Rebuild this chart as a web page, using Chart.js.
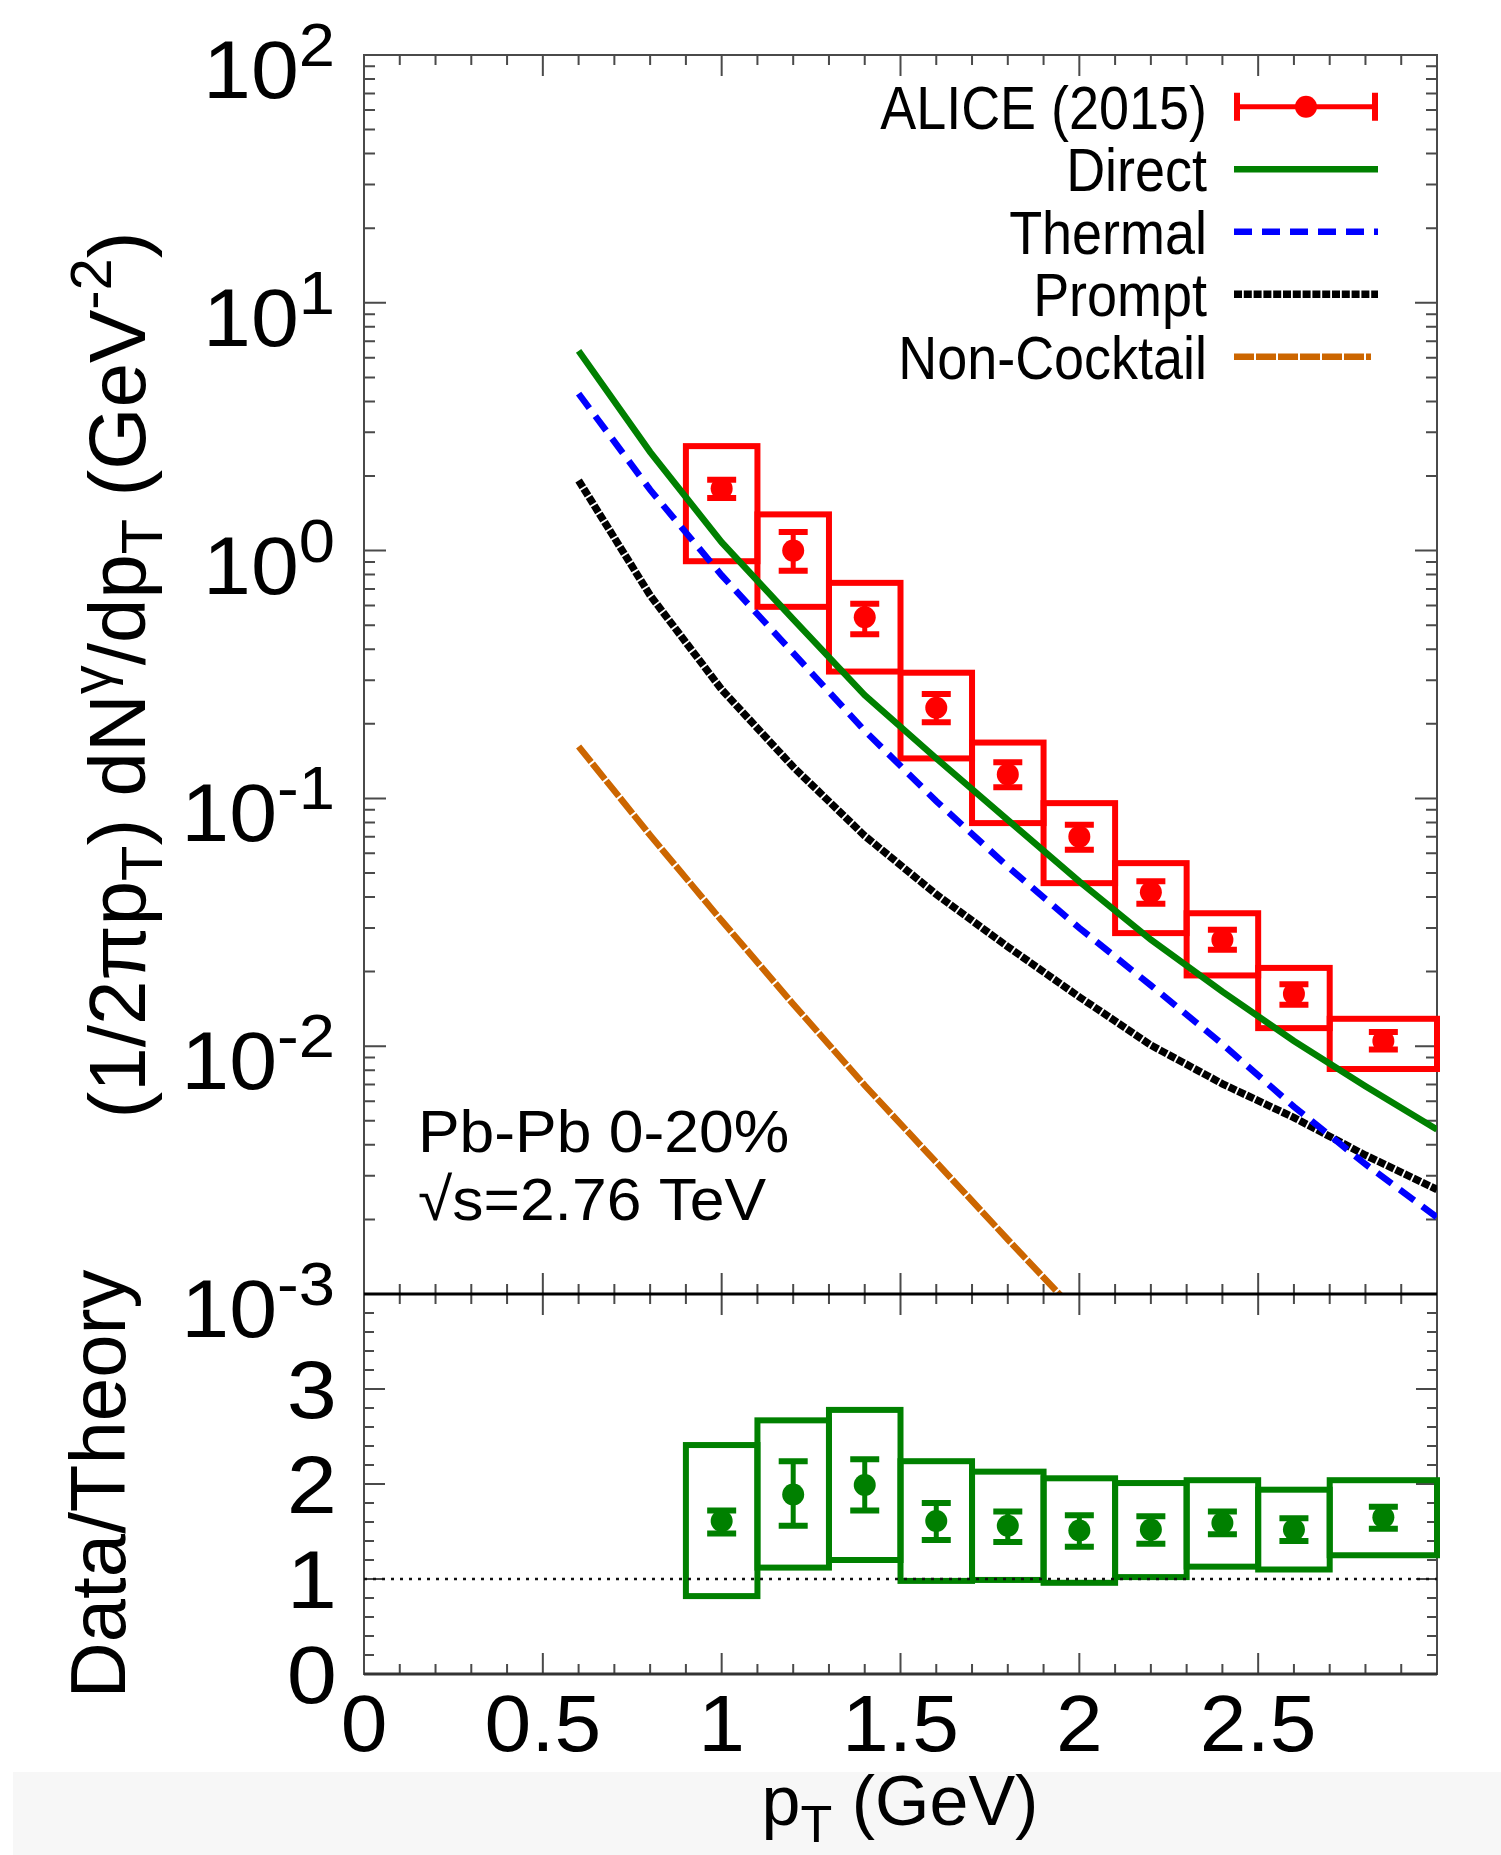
<!DOCTYPE html>
<html><head><meta charset="utf-8">
<script src="https://cdn.jsdelivr.net/npm/chart.js@4.4.1/dist/chart.umd.min.js"></script>
<style>
html,body{margin:0;padding:0;background:#fff;}
#wrap{position:relative;width:1501px;height:1855px;overflow:hidden;background:#fff;}
#band{position:absolute;left:13px;top:1772px;width:1488px;height:83px;background:#f7f7f7;}
canvas{position:absolute;left:0;top:0;}
</style></head><body>
<div id="wrap"><div id="band"></div>
<canvas id="top" width="1501" height="1855"></canvas>
<canvas id="bot" width="1501" height="1855"></canvas>
</div>
<script>
// ---------------- DATA ----------------
const ptBins = [1.0, 1.2, 1.4, 1.6, 1.8, 2.0, 2.2, 2.4, 2.6, 2.85];
const binLo  = [0.9, 1.1, 1.3, 1.5, 1.7, 1.9, 2.1, 2.3, 2.5, 2.7];
const binHi  = [1.1, 1.3, 1.5, 1.7, 1.9, 2.1, 2.3, 2.5, 2.7, 3.0];

const aliceY      = [1.78, 1.00, 0.538, 0.232, 0.125, 0.0701, 0.0418, 0.0269, 0.01626, 0.0105];
const aliceStatHi = [1.93, 1.19, 0.610, 0.264, 0.140, 0.0782, 0.0463, 0.0295, 0.0178, 0.0114];
const aliceStatLo = [1.63, 0.83, 0.460, 0.203, 0.111, 0.0621, 0.0376, 0.0245, 0.0147, 0.0097];
const aliceSysHi  = [2.64, 1.40, 0.741, 0.3215, 0.168, 0.0957, 0.0548, 0.0344, 0.0207, 0.0129];
const aliceSysLo  = [0.906, 0.593, 0.325, 0.145, 0.0795, 0.0455, 0.0286, 0.0193, 0.01183, 0.00809];

const curvePt   = [0.6, 0.8, 1.0, 1.2, 1.4, 1.6, 1.8, 2.0, 2.2, 2.4, 2.6, 2.8, 3.0];
const direct    = [6.4, 2.50, 1.08, 0.528, 0.261, 0.145, 0.0818, 0.0462, 0.0269, 0.0166, 0.0105, 0.0069, 0.00461];
const thermal   = [4.30, 1.76, 0.795, 0.386, 0.1875, 0.0975, 0.053, 0.030, 0.0176, 0.0102, 0.0057, 0.00334, 0.00204];
const prompt    = [1.92, 0.66, 0.275, 0.134, 0.0706, 0.041, 0.0252, 0.0158, 0.0101, 0.00705, 0.00515, 0.00363, 0.00264];
const ncPt      = [0.6, 0.8, 1.0, 1.2, 1.4, 1.6, 1.8, 2.0];
const nonCocktail = [0.162, 0.071, 0.0321, 0.0148, 0.00695, 0.0034, 0.00166, 0.00082];

const ratioY      = [1.61, 1.89, 1.99, 1.61, 1.56, 1.51, 1.52, 1.59, 1.52, 1.65];
const ratioStatHi = [1.72, 2.24, 2.26, 1.80, 1.71, 1.67, 1.66, 1.71, 1.64, 1.76];
const ratioStatLo = [1.48, 1.56, 1.72, 1.41, 1.39, 1.34, 1.37, 1.47, 1.40, 1.53];
const ratioSysHi  = [2.41, 2.67, 2.78, 2.24, 2.13, 2.06, 2.01, 2.04, 1.94, 2.04];
const ratioSysLo  = [0.82, 1.12, 1.20, 0.98, 0.99, 0.96, 1.02, 1.13, 1.10, 1.25];
const unityLine   = [1, 1];

const xTickValues = [0, 0.5, 1, 1.5, 2, 2.5];
const xTickLabels = ['0', '0.5', '1', '1.5', '2', '2.5'];
const yTickExps   = [2, 1, 0, -1, -2, -3];
const ratioTickValues = [0, 1, 2, 3];
const ratioTickLabels = ['0', '1', '2', '3'];

// ---------------- HELPERS ----------------
const FONT = '"Liberation Sans", Arimo, Arial, Helvetica, sans-serif';
const AXIS = '#4a4a4a';
function richWidth(ctx, parts, sx) {
  let w = 0;
  for (const p of parts) { ctx.font = p.size + 'px ' + FONT; w += ctx.measureText(p.t).width * sx; }
  return w;
}
function drawRich(ctx, parts, x, y, o) {
  o = o || {};
  const sx = o.sx || 1, align = o.align || 'left';
  ctx.save();
  ctx.translate(x, y);
  if (o.rot) ctx.rotate(o.rot);
  const w = richWidth(ctx, parts, sx);
  let cx = align === 'right' ? -w : (align === 'center' ? -w / 2 : 0);
  ctx.fillStyle = o.color || '#000';
  ctx.textAlign = 'left'; ctx.textBaseline = 'alphabetic';
  for (const p of parts) {
    ctx.font = p.size + 'px ' + FONT;
    const pw = ctx.measureText(p.t).width * sx;
    ctx.save(); ctx.translate(cx, p.dy || 0); ctx.scale(sx, 1); ctx.fillText(p.t, 0, 0); ctx.restore();
    cx += pw;
  }
  ctx.restore();
}
function seg(ctx, x0, y0, x1, y1) { ctx.moveTo(x0, y0); ctx.lineTo(x1, y1); }
function errBars(ctx, xs, ys, xv, lo, hi, color) {
  ctx.save();
  ctx.strokeStyle = color; ctx.lineCap = 'butt';
  for (let i = 0; i < xv.length; i++) {
    const px = xs.getPixelForValue(xv[i]);
    const yl = ys.getPixelForValue(lo[i]), yh = ys.getPixelForValue(hi[i]);
    ctx.lineWidth = 5; ctx.beginPath(); seg(ctx, px, yl, px, yh); ctx.stroke();
    ctx.lineWidth = 6; ctx.beginPath(); seg(ctx, px - 14.5, yl, px + 14.5, yl); seg(ctx, px - 14.5, yh, px + 14.5, yh); ctx.stroke();
  }
  ctx.restore();
}
function sysBoxes(ctx, xs, ys, lo, hi, color) {
  ctx.save();
  ctx.strokeStyle = color; ctx.lineWidth = 6; ctx.lineJoin = 'miter';
  for (let i = 0; i < binLo.length; i++) {
    const x0 = xs.getPixelForValue(binLo[i]), x1 = xs.getPixelForValue(binHi[i]);
    const y0 = ys.getPixelForValue(hi[i]), y1 = ys.getPixelForValue(lo[i]);
    ctx.strokeRect(x0, y0, x1 - x0, y1 - y0);
  }
  ctx.restore();
}
function xTicks(ctx, xs, a) {
  for (let i = 0; i <= 30; i++) {
    const px = xs.getPixelForValue(i / 10);
    const L = i % 5 === 0 ? 21 : 10;
    seg(ctx, px, a.top, px, a.top + L);
    seg(ctx, px, a.bottom, px, a.bottom - L);
  }
}

// ---------------- UPPER PANEL ----------------
const legendLen = {'Non-Cocktail': 137};
const upperPlugin = {
  id: 'upperDecor',
  beforeDatasetsDraw(chart) {
    const ctx = chart.ctx, a = chart.chartArea, xs = chart.scales.x, ys = chart.scales.y;
    ctx.save();
    ctx.strokeStyle = AXIS; ctx.lineWidth = 2;
    ctx.beginPath();
    xTicks(ctx, xs, a);
    for (let e = -3; e <= 2; e++) {
      for (let m = 1; m <= 9; m++) {
        const v = m * Math.pow(10, e);
        if (v > 100.0001) break;
        const py = ys.getPixelForValue(v);
        const L = m === 1 ? 22 : 11;
        seg(ctx, a.left, py, a.left + L, py);
        seg(ctx, a.right, py, a.right - L, py);
      }
    }
    ctx.stroke();
    ctx.strokeRect(a.left, a.top, a.right - a.left, a.bottom - a.top);
    ctx.restore();
    sysBoxes(ctx, xs, ys, aliceSysLo, aliceSysHi, '#ff0000');
  },
  afterDatasetsDraw(chart) {
    const ctx = chart.ctx, a = chart.chartArea, xs = chart.scales.x, ys = chart.scales.y;
    errBars(ctx, xs, ys, ptBins, aliceStatLo, aliceStatHi, '#ff0000');
    // y tick labels
    yTickExps.forEach(e => {
      const py = ys.getPixelForValue(Math.pow(10, e));
      drawRich(ctx, [{t: '10', size: 82}, {t: String(e), size: 62, dy: -32}], 335, py + 43, {align: 'right', sx: 1.05});
    });
    // y title
    drawRich(ctx, [
      {t: '(1/2πp', size: 80}, {t: 'T', size: 58, dy: 17}, {t: ') dN', size: 80},
      {t: 'γ', size: 58, dy: -34}, {t: '/dp', size: 80}, {t: 'T', size: 58, dy: 17},
      {t: ' (GeV', size: 80}, {t: '-2', size: 58, dy: -34}, {t: ')', size: 80}
    ], 145, 675, {align: 'center', rot: -Math.PI / 2});
    // annotation
    drawRich(ctx, [{t: 'Pb-Pb 0-20%', size: 60}], 418, 1152, {sx: 1.04});
    drawRich(ctx, [{t: '√s=2.76 TeV', size: 60}], 418, 1220, {sx: 1.04});
    // legend
    const x0 = 1234, x1 = 1378;
    chart.data.datasets.forEach((ds, i) => {
      const cy = 106.7 + i * 62.5;
      drawRich(ctx, [{t: ds.label, size: 62}], 1207, cy + 22, {align: 'right', sx: 0.87});
      ctx.save();
      if (i === 0) {
        ctx.strokeStyle = ds.pointBackgroundColor; ctx.fillStyle = ds.pointBackgroundColor;
        ctx.lineWidth = 5; ctx.beginPath(); seg(ctx, x0, cy, x1, cy); ctx.stroke();
        ctx.lineWidth = 6; ctx.beginPath(); seg(ctx, x0 + 3, cy - 14, x0 + 3, cy + 14); seg(ctx, x1 - 3, cy - 14, x1 - 3, cy + 14); ctx.stroke();
        ctx.beginPath(); ctx.arc((x0 + x1) / 2, cy, 11, 0, Math.PI * 2); ctx.fill();
      } else {
        ctx.strokeStyle = ds.borderColor; ctx.lineWidth = ds.borderWidth;
        ctx.setLineDash(ds.borderDash || []);
        ctx.beginPath(); seg(ctx, x0, cy, x0 + (legendLen[ds.label] || (x1 - x0)), cy); ctx.stroke();
      }
      ctx.restore();
    });
  }
};

const pts = (xa, ya) => xa.map((x, i) => ({x: x, y: ya[i]}));
new Chart(document.getElementById('top'), {
  type: 'scatter',
  data: {datasets: [
    {label: 'ALICE (2015)', data: pts(ptBins, aliceY), showLine: false, pointRadius: 11,
     pointBackgroundColor: '#ff0000', pointBorderWidth: 0, borderWidth: 0, borderColor: '#ff0000'},
    {label: 'Direct', data: pts(curvePt, direct), showLine: true, pointRadius: 0,
     borderColor: '#008000', borderWidth: 6.5, tension: 0},
    {label: 'Thermal', data: pts(curvePt, thermal), showLine: true, pointRadius: 0,
     borderColor: '#0000ff', borderWidth: 6.5, borderDash: [18, 10], tension: 0},
    {label: 'Prompt', data: pts(curvePt, prompt), showLine: true, pointRadius: 0,
     borderColor: '#000000', borderWidth: 7.5, borderDash: [8, 1.8], tension: 0},
    {label: 'Non-Cocktail', data: pts(ncPt, nonCocktail), showLine: true, pointRadius: 0,
     borderColor: '#cc6600', borderWidth: 6.5, borderDash: [20, 2], tension: 0}
  ]},
  options: {
    responsive: false, animation: false, devicePixelRatio: 1, events: [],
    layout: {padding: {left: 364, right: 64, top: 55, bottom: 561}},
    scales: {
      x: {type: 'linear', min: 0, max: 3, display: false},
      y: {type: 'logarithmic', min: 1e-3, max: 1e2, display: false}
    },
    plugins: {legend: {display: false}, tooltip: {enabled: false}}
  },
  plugins: [upperPlugin]
});

// ---------------- LOWER PANEL ----------------
const lowerPlugin = {
  id: 'lowerDecor',
  beforeDatasetsDraw(chart) {
    const ctx = chart.ctx, a = chart.chartArea, xs = chart.scales.x, ys = chart.scales.y;
    ctx.save();
    ctx.strokeStyle = AXIS; ctx.lineWidth = 2;
    ctx.beginPath();
    xTicks(ctx, xs, a);
    for (let i = 0; i <= 20; i++) {
      const py = ys.getPixelForValue(i * 0.2);
      const L = i % 5 === 0 ? 21 : 10;
      seg(ctx, a.left, py, a.left + L, py);
      seg(ctx, a.right, py, a.right - L, py);
    }
    ctx.stroke();
    ctx.strokeRect(a.left, a.top, a.right - a.left, a.bottom - a.top);
    ctx.strokeStyle = '#333'; ctx.lineWidth = 3;
    ctx.beginPath(); seg(ctx, a.left, a.bottom, a.right, a.bottom); ctx.stroke();
    ctx.strokeStyle = '#000'; ctx.lineWidth = 3;
    ctx.beginPath(); seg(ctx, a.left, a.top, a.right, a.top); ctx.stroke();
    ctx.restore();
    sysBoxes(ctx, xs, ys, ratioSysLo, ratioSysHi, '#008000');
  },
  afterDatasetsDraw(chart) {
    const ctx = chart.ctx, a = chart.chartArea, xs = chart.scales.x, ys = chart.scales.y;
    errBars(ctx, xs, ys, ptBins, ratioStatLo, ratioStatHi, '#008000');
    ratioTickValues.forEach((v, i) => {
      const py = ys.getPixelForValue(v);
      drawRich(ctx, [{t: ratioTickLabels[i], size: 82}], 337, py + 29, {align: 'right', sx: 1.1});
    });
    xTickValues.forEach((v, i) => {
      const px = xs.getPixelForValue(v);
      drawRich(ctx, [{t: xTickLabels[i], size: 80}], px, 1751, {align: 'center', sx: 1.05});
    });
    drawRich(ctx, [{t: 'p', size: 70}, {t: 'T', size: 52, dy: 17}, {t: ' (GeV)', size: 70}], 900, 1825, {align: 'center'});
    drawRich(ctx, [{t: 'Data/Theory', size: 78}], 125, 1484, {align: 'center', rot: -Math.PI / 2});
  }
};

new Chart(document.getElementById('bot'), {
  type: 'scatter',
  data: {datasets: [
    {label: 'Data/Theory', data: pts(ptBins, ratioY), showLine: false, pointRadius: 11,
     pointBackgroundColor: '#008000', pointBorderWidth: 0, borderWidth: 0, borderColor: '#008000'},
    {label: 'unity', data: pts([0, 3], unityLine), showLine: true, pointRadius: 0,
     borderColor: '#111', borderWidth: 2.5, borderDash: [3, 6], tension: 0}
  ]},
  options: {
    responsive: false, animation: false, devicePixelRatio: 1, events: [],
    layout: {padding: {left: 364, right: 64, top: 1294, bottom: 181}},
    scales: {
      x: {type: 'linear', min: 0, max: 3, display: false},
      y: {type: 'linear', min: 0, max: 4, display: false}
    },
    plugins: {legend: {display: false}, tooltip: {enabled: false}}
  },
  plugins: [lowerPlugin]
});
</script>
</body></html>
